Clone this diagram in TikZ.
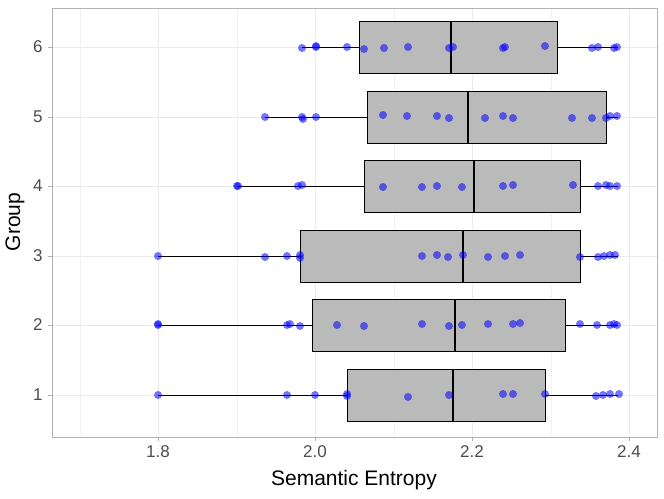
\documentclass[tikz,border=0pt]{standalone}
\usepackage{fontspec}
\setmainfont{Liberation Sans}
\begin{document}
\begin{tikzpicture}[x=1pt,y=-1pt,
  grid/.style={draw=black!8,line width=0.5pt},
  minorgrid/.style={draw=black!5,line width=0.3pt},
  boxfill/.style={draw=black,fill=black!27,line width=0.6pt},
  dot/.style={circle,fill=blue,fill opacity=0.55,inner sep=0pt,minimum size=8pt},
  tick/.style={text=black!70,font=\fontsize{17}{17}\selectfont}]
\useasboundingbox (0,0) rectangle (664,498);
% minor and major grid
\foreach \x in {80,237,394,551} \draw[minorgrid] (\x,8) -- (\x,437);
\foreach \x in {158,315,472,629} \draw[grid] (\x,8) -- (\x,437);
\foreach \y in {47,117,186,256,325,395} \draw[grid] (52,\y) -- (657,\y);
\draw[draw=black!30,line width=0.5pt] (52,8) rectangle (657,437);
% whiskers, boxes, medians: y / low / q1 / median / q3 / high
\foreach \y/\lo/\qa/\md/\qb/\hi in {47/302/359/451/557/618, 117/265/367/468/606/618,
    186/237/364/474/580/618, 256/158/300/463/580/618, 325/158/312/455/565/618,
    395/158/347/453/545/618} {
  \draw[line width=0.6pt] (\lo,\y) -- (\hi,\y);
  \draw[boxfill] (\qa,\y-26) rectangle (\qb,\y+26);
  \draw[line width=1.6pt] (\md,\y-26) -- (\md,\y+26);
}
% jittered points
\foreach \y/\xs in {47/{302/1,316/-1,316/0,347/0,364/2,384/1,408/0,449/1,453/0,503/1,505/0,545/-1,592/1,598/0,614/1,617/0},
    117/{265/0,302/0,303/2,316/0,383/-2,407/-1,437/-1,449/1,485/1,503/-1,513/1,572/1,592/1,606/1,610/-1,617/-1},
    186/{237/0,238/0,298/0,302/-1,383/1,422/1,437/0,462/1,503/0,513/-1,573/-1,598/0,606/-1,610/0,617/0},
    256/{158/0,265/1,287/0,300/2,300/-1,422/0,437/-1,448/1,463/-1,488/1,505/0,520/-1,580/1,598/1,604/0,610/-1,615/-1},
    325/{158/0,158/-1,287/0,290/-1,300/1,337/0,364/1,422/-1,449/1,462/0,488/-1,513/-1,520/-2,580/-1,597/0,610/0,614/-1,617/0},
    395/{158/0,287/0,315/0,347/-1,347/1,408/2,449/0,503/-1,513/-1,545/-1,596/1,603/0,610/-1,619/-1}} {
  \foreach \x/\d in \xs \node[dot] at (\x,\y+\d) {};
}
% axis ticks and labels
\foreach \x/\t in {158/1.8,315/2.0,472/2.2,629/2.4} {
  \draw[black!30] (\x,437) -- (\x,441);
  \node[tick,anchor=north] at (\x,442) {\t};
}
\foreach \y/\t in {47/6,117/5,186/4,256/3,325/2,395/1} {
  \draw[black!30] (48,\y) -- (52,\y);
  \node[tick,anchor=east] at (46,\y) {\t};
}
\node[font=\fontsize{21}{21}\selectfont] (xlab) at (354,480) {Semantic Entropy};
\node[font=\fontsize{21}{21}\selectfont,rotate=90] (ylab) at (15,222) {Group};
\end{tikzpicture}
\end{document}
